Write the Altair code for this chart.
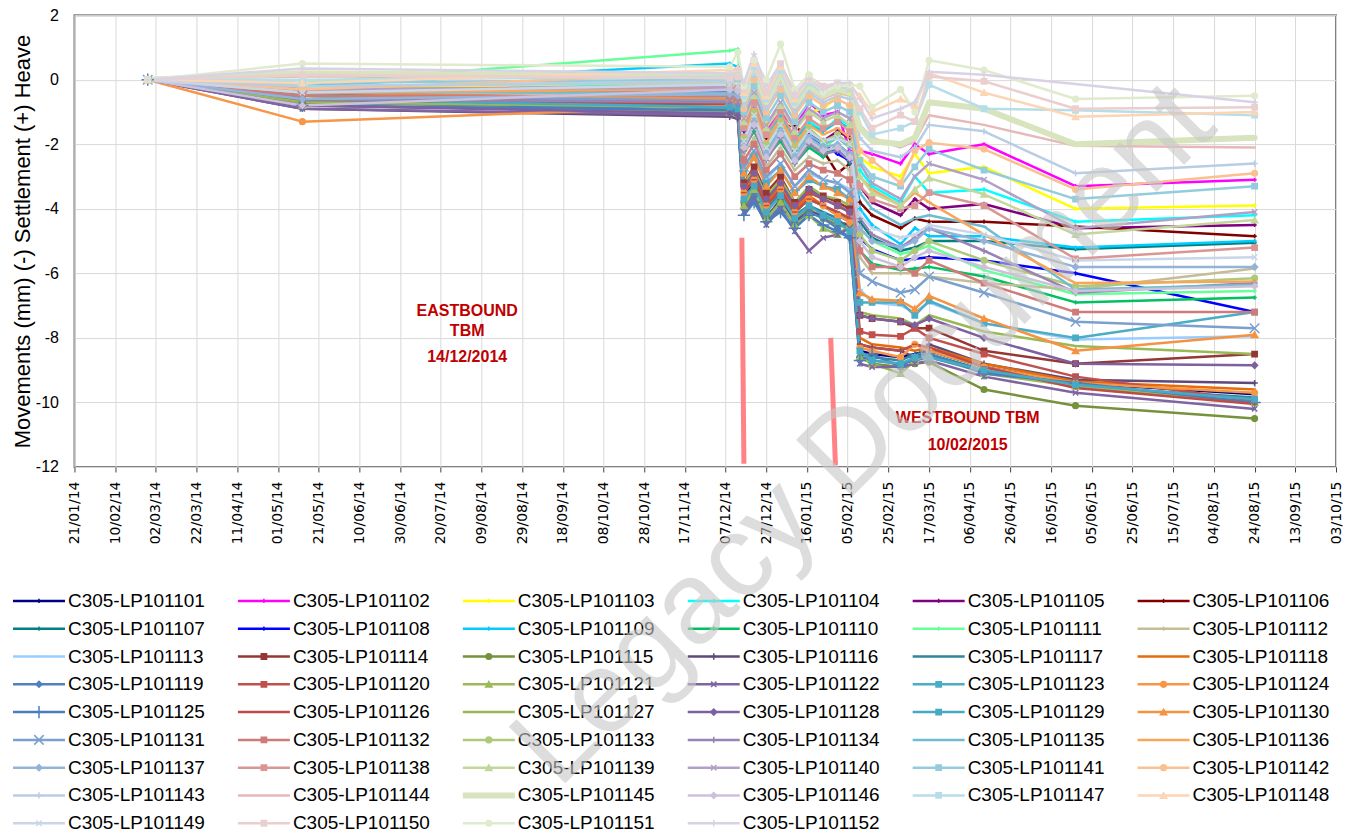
import altair as alt
import pandas as pd

# ---------------- data ----------------
DATES = ["2014-02-26", "2014-05-13", "2014-12-09", "2014-12-13", "2014-12-16", "2014-12-21",
         "2014-12-27", "2015-01-03", "2015-01-10", "2015-01-17", "2015-01-24", "2015-01-31",
         "2015-02-06", "2015-02-11", "2015-02-17", "2015-03-03", "2015-03-10", "2015-03-17",
         "2015-04-13", "2015-05-28", "2015-08-24"]

SERIES_NAMES = ["C305-LP1011%02d" % i for i in range(1, 53)]

LP101101 = [0, -0.6, -0.9, -1.0, -3.6, -3.2, -3.9, -3.4, -4.1, -3.7, -3.9, -4.2, -4.4, -8.4, -8.5, -8.6, -8.5, -8.4, -8.9, -9.4, -9.75]
LP101102 = [0, -0.3, -0.4, -0.5, -1.4, -0.9, -1.6, -1.0, -1.5, -0.7, -1.1, -1.0, -2.2, -2.2, -2.3, -2.6, -2.0, -2.3, -2.0, -3.3, -3.1]
LP101103 = [0, -0.2, -0.3, -0.4, -1.2, -0.7, -1.3, -0.9, -1.4, -1.0, -0.9, -0.5, -0.4, -2.4, -2.7, -3.0, -2.3, -2.9, -2.7, -4.0, -3.9]
LP101104 = [0, -0.4, -0.1, 0.1, -1.6, -1.0, -1.8, -1.2, -1.9, -1.3, -1.6, -1.2, -1.4, -2.8, -3.3, -3.8, -3.0, -3.5, -3.4, -4.4, -4.2]
LP101105 = [0, -0.6, -0.7, -0.8, -1.8, -1.3, -2.0, -1.5, -2.2, -1.7, -1.9, -1.6, -1.8, -3.3, -3.8, -4.2, -3.7, -4.0, -3.85, -4.6, -4.5]
LP101106 = [0, -0.5, -0.6, -0.7, -1.9, -1.0, -1.8, -1.5, -1.4, -1.9, -2.2, -2.9, -2.6, -3.8, -4.2, -4.6, -4.3, -4.4, -4.4, -4.55, -4.85]
LP101107 = [0, -0.4, -0.8, -0.9, -2.0, -1.5, -2.3, -1.6, -2.4, -2.0, -2.3, -2.1, -2.6, -4.4, -4.9, -5.3, -5.2, -5.0, -5.0, -5.25, -5.05]
LP101108 = [0, -0.3, -0.35, -0.45, -1.6, -1.4, -2.0, -1.6, -2.2, -1.8, -2.0, -2.3, -2.5, -4.9, -5.25, -5.6, -5.55, -5.5, -5.6, -6.0, -7.2]
LP101109 = [0, -0.2, 0.5, 0.4, -1.5, -0.9, -1.7, -1.1, -1.8, -1.4, -1.6, -1.3, -1.5, -4.0, -4.5, -5.1, -4.6, -4.85, -4.85, -5.2, -5.0]
LP101110 = [0, -0.5, -0.9, -1.0, -2.1, -1.6, -2.4, -1.9, -2.6, -2.1, -2.4, -2.0, -2.3, -5.3, -5.7, -5.9, -5.85, -5.8, -6.1, -6.9, -6.75]
LP101111 = [0, -0.1, 0.9, 0.95, -1.8, -1.2, -2.2, -1.5, -2.3, -1.9, -2.1, -1.8, -2.0, -4.6, -5.0, -5.4, -5.3, -5.15, -5.9, -6.65, -6.55]
LP101112 = [0, -0.3, -0.5, -0.6, -2.3, -1.8, -2.7, -2.1, -2.8, -2.4, -2.6, -2.5, -2.8, -5.5, -6.0, -6.0, -6.0, -6.1, -6.3, -6.5, -5.85]
LP101113 = [0, -0.2, -0.1, -0.2, -2.8, -2.2, -3.1, -2.6, -3.3, -2.9, -3.1, -3.2, -3.4, -6.5, -6.9, -7.0, -7.2, -6.9, -7.55, -8.05, -7.95]
LP101114 = [0, -0.7, -0.9, -1.0, -3.2, -2.7, -3.5, -3.0, -3.8, -3.4, -3.6, -3.8, -4.0, -7.3, -7.4, -7.5, -7.7, -7.7, -8.4, -8.8, -8.5]
LP101115 = [0, -0.8, -1.0, -1.1, -3.8, -3.4, -4.2, -3.8, -4.4, -4.0, -4.3, -4.5, -4.6, -8.6, -8.8, -8.9, -8.8, -8.75, -9.6, -10.1, -10.5]
LP101116 = [0, -0.9, -1.15, -1.2, -3.9, -3.5, -4.3, -3.7, -4.4, -4.1, -4.2, -4.4, -4.5, -8.2, -8.3, -8.4, -8.6, -8.2, -8.8, -9.3, -9.4]
LP101117 = [0, -0.6, -0.8, -0.9, -3.6, -3.3, -4.0, -3.5, -4.2, -3.9, -4.1, -4.3, -4.7, -8.5, -8.6, -8.7, -8.5, -8.5, -9.0, -9.5, -9.85]
LP101118 = [0, -0.5, -0.7, -0.75, -3.4, -3.0, -3.8, -3.3, -4.0, -3.6, -3.9, -4.1, -4.3, -8.0, -8.2, -8.3, -8.4, -8.3, -8.8, -9.35, -9.6]
LP101119 = [0, -0.7, -0.9, -1.0, -4.0, -3.6, -4.4, -3.9, -4.5, -4.1, -4.3, -4.6, -4.9, -8.6, -8.7, -8.8, -8.7, -8.6, -9.05, -9.5, -10.0]
LP101120 = [0, -0.7, -0.6, -0.7, -3.3, -2.9, -3.7, -3.2, -3.9, -3.5, -3.7, -3.9, -4.1, -7.8, -7.9, -7.95, -7.7, -8.0, -8.5, -9.2, -9.95]
LP101121 = [0, -0.8, -1.0, -1.05, -3.9, -3.4, -4.3, -3.8, -4.5, -4.2, -4.6, -4.8, -4.5, -8.6, -8.8, -9.1, -8.7, -8.5, -9.1, -9.5, -10.0]
LP101122 = [0, -0.9, -1.1, -1.15, -4.1, -3.7, -4.5, -4.0, -4.7, -5.3, -4.9, -4.8, -4.6, -8.8, -8.9, -8.9, -8.8, -8.7, -9.2, -9.7, -10.2]
LP101123 = [0, -0.5, -0.6, -0.7, -2.9, -2.4, -3.2, -2.8, -3.5, -3.1, -3.3, -3.4, -3.7, -6.9, -6.9, -6.9, -7.3, -6.85, -7.55, -8.0, -7.2]
LP101124 = [0, -1.3, -0.8, -0.85, -3.5, -3.1, -3.9, -3.4, -4.1, -3.7, -3.9, -4.2, -4.4, -8.3, -8.4, -8.6, -8.2, -8.4, -8.9, -9.4, -9.7]
LP101125 = [0, -0.8, -0.95, -1.0, -4.2, -3.8, -4.4, -4.1, -4.6, -4.2, -4.5, -4.7, -4.9, -8.7, -8.5, -8.9, -8.6, -8.5, -9.1, -9.4, -10.0]
LP101126 = [0, -0.6, -0.75, -0.8, -3.5, -3.1, -3.9, -3.4, -4.1, -3.7, -3.9, -4.1, -4.3, -8.2, -8.3, -8.4, -8.2, -8.3, -8.9, -9.55, -10.05]
LP101127 = [0, -0.7, -0.85, -0.9, -3.2, -2.8, -3.6, -3.1, -3.8, -3.3, -3.6, -3.7, -3.9, -7.2, -7.3, -7.4, -7.6, -7.3, -7.8, -8.25, -8.5]
LP101128 = [0, -0.8, -1.05, -1.1, -3.3, -2.9, -3.7, -3.2, -3.9, -3.4, -3.7, -3.9, -4.1, -7.3, -7.4, -7.5, -7.6, -7.4, -8.0, -8.8, -8.85]
LP101129 = [0, -0.6, -0.85, -0.9, -3.7, -3.3, -4.1, -3.6, -4.3, -3.9, -4.2, -4.4, -4.7, -8.4, -8.7, -8.8, -8.6, -8.6, -9.0, -9.45, -9.9]
LP101130 = [0, -0.4, -0.6, -0.65, -2.9, -2.4, -3.3, -2.8, -3.5, -3.0, -3.3, -3.5, -3.7, -6.6, -6.8, -6.85, -7.1, -6.7, -7.4, -8.4, -7.9]
LP101131 = [0, -0.5, -0.65, -0.7, -2.7, -2.2, -3.0, -2.6, -3.3, -2.8, -3.1, -3.2, -3.5, -6.0, -6.25, -6.6, -6.5, -6.1, -6.6, -7.5, -7.7]
LP101132 = [0, -0.5, -0.5, -0.55, -2.5, -2.0, -2.8, -2.3, -3.0, -2.6, -2.8, -2.9, -3.1, -5.3, -5.8, -5.8, -6.0, -5.6, -6.3, -7.2, -7.2]
LP101133 = [0, -0.3, -0.3, -0.35, -1.8, -1.0, -2.0, -1.3, -2.1, -1.5, -1.9, -1.7, -2.0, -4.8, -5.3, -5.6, -5.3, -5.0, -5.6, -6.4, -6.15]
LP101134 = [0, -0.6, -0.7, -0.75, -2.2, -1.5, -2.5, -1.8, -2.6, -2.0, -2.3, -2.2, -2.5, -4.3, -4.8, -5.2, -4.9, -4.6, -5.3, -6.6, -6.3]
LP101135 = [0, -0.4, -0.4, -0.45, -1.9, -1.2, -2.2, -1.5, -2.3, -1.7, -2.0, -1.8, -2.1, -3.5, -4.0, -4.5, -4.3, -4.2, -4.55, -6.5, -6.35]
LP101136 = [0, -0.4, -0.3, -0.2, -1.7, -0.9, -1.9, -1.2, -2.0, -1.4, -1.7, -1.5, -1.8, -3.0, -3.4, -3.9, -3.5, -3.8, -4.8, -6.3, -6.25]
LP101137 = [0, -0.6, -0.45, -0.5, -2.0, -1.3, -2.3, -1.6, -2.4, -1.8, -2.1, -2.0, -2.3, -4.6, -5.0, -5.2, -5.0, -4.6, -5.0, -5.8, -5.8]
LP101138 = [0, -0.3, -0.2, -0.25, -1.5, -0.7, -1.7, -1.0, -1.8, -1.2, -1.5, -1.3, -1.6, -3.3, -3.7, -4.0, -3.9, -3.5, -3.9, -5.55, -5.2]
LP101139 = [0, -0.2, -0.1, 0.0, -1.3, -0.5, -1.5, -0.8, -1.6, -1.0, -1.3, -1.1, -1.4, -3.0, -3.5, -3.9, -3.4, -3.05, -3.55, -4.8, -4.35]
LP101140 = [0, -0.3, -0.25, -0.3, -1.2, -0.4, -1.4, -0.7, -1.5, -0.9, -1.2, -1.0, -1.2, -2.6, -3.2, -3.7, -3.0, -2.6, -3.1, -4.6, -4.1]
LP101141 = [0, -0.1, 0.0, 0.05, -1.0, -0.2, -1.2, -0.5, -1.3, -0.7, -1.0, -0.8, -1.0, -2.5, -3.0, -3.3, -2.7, -2.15, -2.8, -3.7, -3.3]
LP101142 = [0, -0.3, 0.2, 0.3, -0.9, 0.0, -1.0, -0.3, -1.1, -0.5, -0.8, -0.6, -0.8, -2.2, -2.5, -3.2, -2.2, -1.95, -2.15, -3.4, -2.9]
LP101143 = [0, -0.2, -0.05, 0.0, -0.8, 0.1, -0.9, -0.2, -1.0, -0.4, -0.7, -0.5, -0.6, -1.8, -2.2, -2.4, -2.1, -1.4, -1.6, -2.9, -2.6]
LP101144 = [0, 0.1, 0.1, 0.2, -0.7, 0.2, -0.8, 0.0, -0.9, -0.3, -0.6, -0.4, -0.5, -1.4, -1.8, -2.1, -1.9, -1.1, -1.4, -2.05, -2.1]
LP101145 = [0, 0.2, 0.1, 0.15, -0.6, 0.3, -0.7, 0.2, -0.8, -0.2, -0.5, -0.3, -0.4, -1.5, -1.9, -2.0, -1.8, -0.7, -0.9, -2.0, -1.8]
LP101146 = [0, -0.8, -0.3, -0.35, -2.1, -1.4, -2.4, -1.7, -2.5, -1.9, -2.2, -2.1, -2.4, -5.0, -5.5, -5.8, -5.5, -5.3, -5.8, -6.55, -6.4]
LP101147 = [0, 0.0, 0.1, 0.2, -0.5, 0.4, -0.6, 0.3, -0.7, -0.1, -0.4, -0.2, -0.3, -1.0, -1.7, -1.5, -1.3, -0.15, -0.9, -0.95, -1.1]
LP101148 = [0, -0.1, 0.3, 0.35, -0.4, 0.5, -0.5, 0.4, -0.6, 0.0, -0.3, -0.1, -0.2, -0.5, -1.0, -0.6, -0.8, 0.2, -0.4, -1.15, -1.0]
LP101149 = [0, -0.4, -0.15, -0.2, -1.9, -1.1, -2.1, -1.4, -2.2, -1.6, -1.9, -1.8, -2.0, -4.2, -4.6, -4.9, -4.8, -4.5, -4.8, -5.6, -5.5]
LP101150 = [0, 0.15, 0.05, 0.1, -0.3, 0.6, -0.4, 0.5, -0.5, 0.1, -0.2, -0.1, -0.2, -0.9, -1.5, -1.1, -1.3, 0.1, -0.05, -0.9, -0.85]
LP101151 = [0, 0.5, 0.4, 0.85, -0.2, 0.6, 0.0, 1.1, -0.3, 0.15, -0.4, -0.2, -0.15, -0.2, -0.85, -0.3, -1.0, 0.6, 0.3, -0.6, -0.5]
LP101152 = [0, 0.35, 0.2, 0.3, -0.1, 0.8, -0.2, 0.5, -0.4, 0.0, -0.3, -0.1, -0.1, -0.6, -1.2, -0.9, -0.7, 0.25, 0.15, None, -0.7]

SERIES_VALUES = [LP101101, LP101102, LP101103, LP101104, LP101105, LP101106, LP101107, LP101108,
                 LP101109, LP101110, LP101111, LP101112, LP101113, LP101114, LP101115, LP101116,
                 LP101117, LP101118, LP101119, LP101120, LP101121, LP101122, LP101123, LP101124,
                 LP101125, LP101126, LP101127, LP101128, LP101129, LP101130, LP101131, LP101132,
                 LP101133, LP101134, LP101135, LP101136, LP101137, LP101138, LP101139, LP101140,
                 LP101141, LP101142, LP101143, LP101144, LP101145, LP101146, LP101147, LP101148,
                 LP101149, LP101150, LP101151, LP101152]

X_TICKS = ["2014-01-21", "2014-02-10", "2014-03-02", "2014-03-22", "2014-04-11", "2014-05-01",
           "2014-05-21", "2014-06-10", "2014-06-30", "2014-07-20", "2014-08-09", "2014-08-29",
           "2014-09-18", "2014-10-08", "2014-10-28", "2014-11-17", "2014-12-07", "2014-12-27",
           "2015-01-16", "2015-02-05", "2015-02-25", "2015-03-17", "2015-04-06", "2015-04-26",
           "2015-05-16", "2015-06-05", "2015-06-25", "2015-07-15", "2015-08-04", "2015-08-24",
           "2015-09-13", "2015-10-03"]
Y_TICKS = [-12, -10, -8, -6, -4, -2, 0, 2]

# TBM markers (red bars)
TBM_TOP_DATE = ["2014-12-15T00:00:00", "2015-01-27T16:00:00"]
TBM_BOTTOM_DATE = ["2014-12-16T00:00:00", "2015-01-30T00:00:00"]
TBM_TOP = [-4.9, -8.0]
TBM_BOTTOM = [-11.9, -11.95]

ANNOT_TEXT = ["EASTBOUND", "TBM", "14/12/2014", "WESTBOUND TBM", "10/02/2015"]
ANNOT_DATE = ["2014-08-02", "2014-08-02", "2014-08-02", "2015-04-05", "2015-04-05"]
ANNOT_VALUE = [-7.16, -7.8, -8.6, -10.49, -11.32]

# ---------------- styles ----------------
COLORS = ["#000080", "#ff00ff", "#ffff00", "#00ffff", "#800080", "#800000", "#008080", "#0000ff",
          "#00ccff", "#00c060", "#66ff99", "#c4bd97", "#99ccff", "#953735", "#76923c", "#5f497a",
          "#31859c", "#e46c0a", "#4f81bd", "#c0504d", "#9bbb59", "#8064a2", "#4bacc6", "#f79646",
          "#4a7ebb", "#be4b48", "#98b954", "#7d60a0", "#46aac5", "#f69240", "#7ba0cd", "#cf7b79",
          "#afc97a", "#9983b5", "#6fbdd1", "#f9a65a", "#95b3d7", "#d99694", "#c3d69b", "#b2a1c7",
          "#93cddd", "#fac090", "#b9cde5", "#e6b9b8", "#d7e4bd", "#ccc1da", "#b7dee8", "#fcd5b5",
          "#c9d6ea", "#ebcfcf", "#e0ebcd", "#d9d2e5"]
MARKERS = ["tick"] * 12 + ["dash", "square", "circle", "plus", "none", "none",
           "diamond", "square", "triangle", "x", "square", "circle",
           "bigplus", "dash", "none", "diamond", "square", "triangle",
           "bigx", "square", "circle", "plus", "dash", "dash",
           "diamond", "square", "triangle", "x", "square", "circle",
           "plus", "none", "none", "diamond", "square", "triangle",
           "x", "square", "circle", "plus"]
MARKER_KINDS = ["tick", "plus", "bigplus", "x", "bigx", "dash", "circle", "square", "triangle", "diamond"]
MARKER_PATHS = ["M-1,0L1,0M0,-1L0,1", "M-1,0L1,0M0,-1L0,1", "M-1,0L1,0M0,-1L0,1",
                "M-0.8,-0.8L0.8,0.8M0.8,-0.8L-0.8,0.8", "M-0.8,-0.8L0.8,0.8M0.8,-0.8L-0.8,0.8",
                "M-1,0L1,0", "circle", "square", "triangle-up", "diamond"]
MARKER_SIZE = {"tick": 18, "plus": 40, "bigplus": 150, "x": 45, "bigx": 140, "dash": 30,
               "circle": 32, "square": 28, "triangle": 40, "diamond": 36}

W, H = 1262, 452


def ms(s):
    t = pd.Timestamp(s)
    if t.tzinfo is None:
        t = t.tz_localize("UTC")
    return int(t.value // 10**6)


rows = []
for name, vals, mk in zip(SERIES_NAMES, SERIES_VALUES, MARKERS):
    for d, v in zip(DATES, vals):
        if v is None:
            continue
        rows.append({"series": name, "date": ms(d), "value": v, "marker": mk,
                     "msize": MARKER_SIZE.get(mk, 0)})
df = pd.DataFrame(rows)
pts = df[df["marker"] != "none"]

# legend table (6 columns)
LEG_LEFT, LEG_DX, LEG_LINE, LEG_TOP, LEG_DY = -61.5, 225, 52, 586, 27.8
leg = []
for i, (name, mk) in enumerate(zip(SERIES_NAMES, MARKERS)):
    c, r = i % 6, i // 6
    x0 = LEG_LEFT + c * LEG_DX
    leg.append({"series": name, "x0": x0, "x1": x0 + LEG_LINE, "xm": x0 + LEG_LINE / 2,
                "xt": x0 + LEG_LINE + 3, "y": LEG_TOP + r * LEG_DY, "marker": mk,
                "msize": MARKER_SIZE.get(mk, 0)})
legdf = pd.DataFrame(leg)
legpts = legdf[legdf["marker"] != "none"]

tbm = pd.DataFrame({"d1": [ms(s) for s in TBM_TOP_DATE], "d2": [ms(s) for s in TBM_BOTTOM_DATE],
                    "v1": TBM_TOP, "v2": TBM_BOTTOM})
ann = pd.DataFrame({"t": ANNOT_TEXT, "d": [ms(s) for s in ANNOT_DATE], "v": ANNOT_VALUE})

# ---------------- scales ----------------
color_scale = alt.Scale(domain=SERIES_NAMES, range=COLORS)
shape_scale = alt.Scale(domain=MARKER_KINDS, range=MARKER_PATHS)
xscale = alt.Scale(type="utc", domain=[ms(X_TICKS[0]), ms(X_TICKS[-1])])
yscale = alt.Scale(domain=[-12, 2], nice=False, zero=False)
px_x = alt.Scale(domain=[0, W], range=[0, W], nice=False, zero=False)
px_y = alt.Scale(domain=[0, H], range=[0, H], nice=False, zero=False)

sw = alt.condition(alt.datum.series == "C305-LP101145", alt.value(6), alt.value(2.5))

lines = alt.Chart(df).mark_line(strokeJoin="round", strokeCap="round").encode(
    x=alt.X("date:T", scale=xscale, title=None,
            axis=alt.Axis(values=[ms(s) for s in X_TICKS],
                          labelExpr="utcFormat(datum.value, '%d/%m/%y')",
                          labelAngle=270, labelFont="DejaVu Sans", labelFontSize=14,
                          labelColor="#000000", labelOverlap=False, labelBound=False,
                          labelPadding=9, tickSize=5, tickColor="#404040", domain=False,
                          grid=True, gridColor="#d9d9d9", gridWidth=1)),
    y=alt.Y("value:Q", scale=yscale, title="Movements (mm) (-) Settlement (+) Heave",
            axis=alt.Axis(values=Y_TICKS, labelExpr="'' + datum.value", labelFont="Liberation Sans",
                          labelFontSize=16, labelColor="#000000", labelPadding=16, ticks=False,
                          domain=False, grid=True, gridColor="#d9d9d9", gridWidth=1,
                          titleFont="Liberation Sans", titleFontSize=22, titleFontWeight="normal",
                          titleColor="#000000", titlePadding=1)),
    color=alt.Color("series:N", scale=color_scale, legend=None),
    detail="series:N",
    strokeWidth=sw,
)

points = alt.Chart(pts).mark_point(filled=False, strokeWidth=1.5, opacity=1).encode(
    x="date:T", y="value:Q",
    fill=alt.Fill("series:N", scale=color_scale, legend=None),
    stroke=alt.Stroke("series:N", scale=color_scale, legend=None),
    shape=alt.Shape("marker:N", scale=shape_scale, legend=None),
    size=alt.Size("msize:Q", scale=None, legend=None),
)

bars = alt.Chart(tbm).mark_rule(color="#ff7c80", strokeWidth=5, opacity=0.95).encode(
    x="d1:T", x2="d2:T", y="v1:Q", y2="v2:Q")

texts = alt.Chart(ann).mark_text(color="#c00000", fontWeight="bold", fontSize=16,
                                 font="Liberation Sans").encode(x="d:T", y="v:Q", text="t:N")

main = alt.layer(lines, points, bars, texts)

leg_lines = alt.Chart(legdf).mark_rule().encode(
    x=alt.X("x0:Q", scale=px_x, axis=None), x2="x1:Q",
    y=alt.Y("y:Q", scale=px_y, axis=None),
    color=alt.Color("series:N", scale=color_scale, legend=None),
    strokeWidth=sw,
)
leg_points = alt.Chart(legpts).mark_point(filled=False, strokeWidth=1.5, opacity=1).encode(
    x="xm:Q", y="y:Q",
    fill=alt.Fill("series:N", scale=color_scale, legend=None),
    stroke=alt.Stroke("series:N", scale=color_scale, legend=None),
    shape=alt.Shape("marker:N", scale=shape_scale, legend=None),
    size=alt.Size("msize:Q", scale=None, legend=None),
)
leg_text = alt.Chart(legdf).mark_text(align="left", baseline="middle", fontSize=19,
                                      font="Liberation Sans", color="#000000").encode(
    x="xt:Q", y="y:Q", text="series:N")

WATERMARK = pd.DataFrame({"t": ["Legacy Document"], "x": [790], "y": [420]})
watermark = alt.Chart(WATERMARK).mark_text(angle=315, fontSize=116, font="Liberation Sans",
                                           color="#c8c8c8", opacity=0.6,
                                           baseline="middle", align="center").encode(
    x="x:Q", y="y:Q", text="t:N")

legend = alt.layer(leg_lines, leg_points, leg_text, watermark)

chart = alt.layer(main, legend).resolve_scale(x="independent", y="independent").properties(
    width=W, height=H,
    autosize=alt.AutoSizeParams(type="none"),
    padding={"left": 66.5, "top": 7, "right": 12, "bottom": 372},
).configure_view(stroke="#7f7f7f", strokeWidth=2)

chart.save("out.html", embed_options={"renderer": "svg", "actions": False})
